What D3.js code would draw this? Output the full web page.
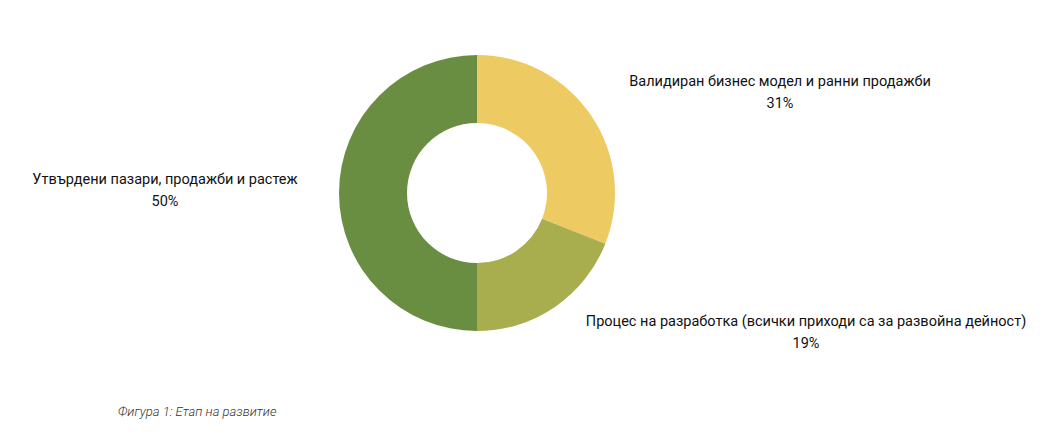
<!doctype html>
<html>
<head>
<meta charset="utf-8">
<script src="https://d3js.org/d3.v7.min.js"></script>
<style>
  body { margin: 0; background: #fff; }
  text { font-family: Roboto, "Noto Sans", sans-serif; }
</style>
</head>
<body>
<svg id="chart" width="1049" height="439"></svg>
<script>
const categories = [
  "Валидиран бизнес модел и ранни продажби",
  "Процес на разработка (всички приходи са за развойна дейност)",
  "Утвърдени пазари, продажби и растеж"
];
const values = [31, 19, 50];
const colors = ["#EECA62", "#A8AE4E", "#6A8E41"];
const caption = "Фигура 1: Етап на развитие";

const svg = d3.select("#chart");
const cx = 477, cy = 193, outerR = 138, innerR = 70;

const pie = d3.pie().sort(null).value(d => d);
const arc = d3.arc().innerRadius(innerR).outerRadius(outerR);

const g = svg.append("g").attr("transform", `translate(${cx},${cy})`);
g.selectAll("path")
  .data(pie(values))
  .join("path")
  .attr("d", arc)
  .attr("fill", (d, i) => colors[i]);

// label anchors (centre of each two-line label)
const labelPos = [[780, 86], [806, 326], [165, 184]];
labelPos.forEach(([x, y], i) => {
  const t = svg.append("text")
    .attr("x", x).attr("y", y)
    .attr("text-anchor", "middle")
    .attr("font-size", 14.5)
    .attr("fill", "#111");
  t.append("tspan").attr("x", x).text(categories[i]);
  t.append("tspan").attr("x", x).attr("dy", 22).text(values[i] + "%");
});

svg.append("text")
  .attr("x", 118).attr("y", 416)
  .attr("font-size", 13)
  .attr("font-style", "italic")
  .attr("font-family", "'Open Sans', sans-serif")
  .attr("font-weight", 300)
  .attr("fill", "#333")
  .text(caption);
</script>
</body>
</html>
